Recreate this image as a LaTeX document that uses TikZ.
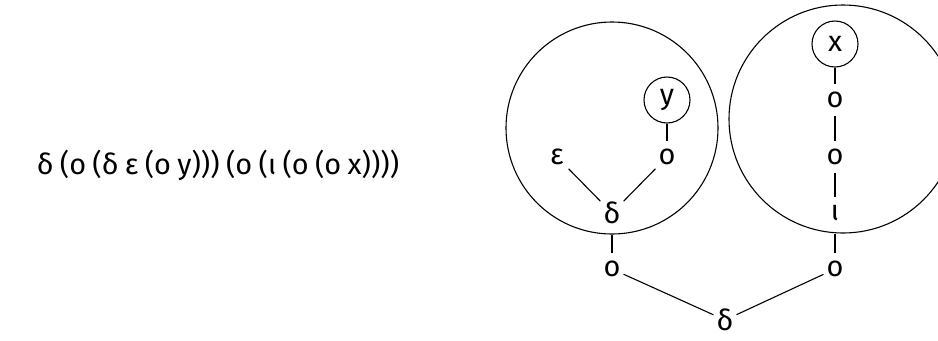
\documentclass[tikz,border=0pt]{standalone}
\usepackage{fontspec}
\setmainfont{Fira Sans}
\newcommand\fgap{\hspace{0.22em}}
\begin{document}
\begin{tikzpicture}[x=1bp,y=-1bp,
  font=\fontsize{29}{34}\selectfont,
  line width=1.1bp,
  lbl/.style={inner sep=0pt,minimum width=22bp,minimum height=30bp},
  leaf/.style={circle,draw,inner sep=0pt,minimum size=46bp},
  big/.style={circle,draw,inner sep=0pt}]
\useasboundingbox (0,0) rectangle (938,340);
\clip (0,0) rectangle (938,340);
% formula
\node[inner sep=0pt] (formula) at (218,165) {δ\fgap(o\fgap(δ\fgap ε\fgap(o\fgap y)))\fgap(o\fgap(ι\fgap(o\fgap(o\fgap x))))};
% big circles
\node[big,minimum size=212bp] (C1) at (612,128) {};
\node[big,minimum size=228bp] (C2) at (843,119) {};
% left subtree
\node[leaf] (y) at (667,100) {y};
\node[lbl] (oy) at (667,157) {o};
\node[lbl] (eps) at (557,157) {ε};
\node[lbl] (d1) at (612,213) {δ};
% right subtree
\node[leaf] (x) at (835,44) {x};
\node[lbl] (ox1) at (835,100) {o};
\node[lbl] (ox2) at (835,157) {o};
\node[lbl] (io) at (835,213) {ι};
% outer
\node[lbl] (o1) at (612,269) {o};
\node[lbl] (o2) at (835,269) {o};
\node[lbl] (d0) at (725,320) {δ};
% edges
\draw (y) -- (oy);
\draw (eps) -- (d1);
\draw (oy) -- (d1);
\draw (x) -- (ox1);
\draw (ox1) -- (ox2);
\draw (ox2) -- (io);
\draw (o1.north) -- (o1.north |- C1.south);
\draw (o2.north) -- (o2.north |- C2.south);
\draw (o1) -- (d0);
\draw (o2) -- (d0);
\end{tikzpicture}
\end{document}
